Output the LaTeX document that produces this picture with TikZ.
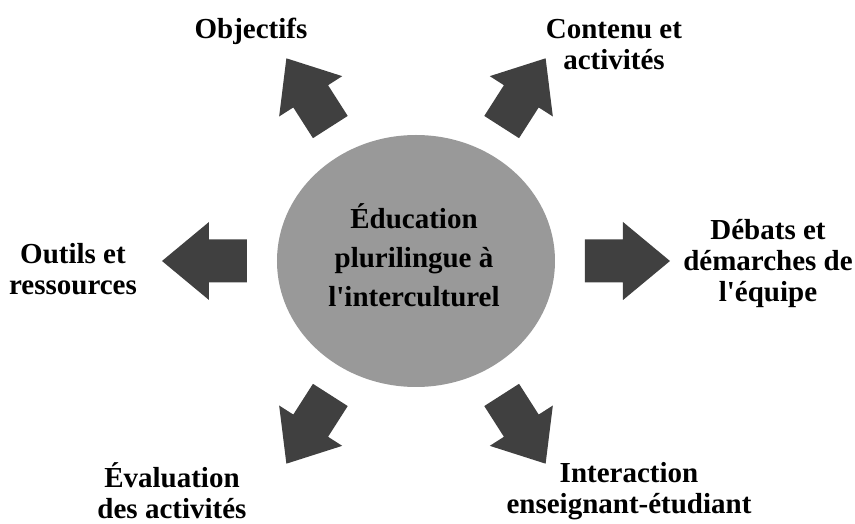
\documentclass[tikz,border=0pt]{standalone}
\usepackage{fontspec}
\setmainfont{Liberation Serif}
\definecolor{arrowgray}{HTML}{404040}
\definecolor{discgray}{HTML}{999999}
\tikzset{
  branch/.style={align=center, font=\bfseries\fontsize{29}{31}\selectfont},
  bigarrow/.pic={\fill[arrowgray] (0,-21.5) -- (38,-21.5) -- (38,-39) -- (85,0) -- (38,39) -- (38,21.5) -- (0,21.5) -- cycle;}
}

\begin{document}
\begin{tikzpicture}[x=1pt,y=1pt]
\useasboundingbox (-416,-263) rectangle (439,261);
\fill[discgray] (0,0) ellipse [x radius=139pt, y radius=126pt];
\node[align=center, font=\bfseries\fontsize{29}{39}\selectfont] (centre) at (-2,6) {Éducation\\plurilingue à\\l\textquotesingle interculturel};
\pic[rotate=0] at (169,0) {bigarrow};
\pic[rotate=180] at (-169,0) {bigarrow};
\pic[rotate=57.4, scale=0.96] at (57.4:159) {bigarrow};
\pic[rotate=122.6, scale=0.96] at (122.6:159) {bigarrow};
\pic[rotate=-57.4, scale=0.96] at (-57.4:159) {bigarrow};
\pic[rotate=-122.6, scale=0.96] at (-122.6:159) {bigarrow};
\node[branch] (objectifs) at (-165,230) {Objectifs};
\node[branch] (contenu) at (198,216) {Contenu et\\activités};
\node[branch] (outils) at (-343,-8) {Outils et\\ressources};
\node[branch] (debats) at (352,-3) {Débats et\\démarches de\\l\textquotesingle équipe};
\node[branch] (evaluation) at (-244,-230) {Évaluation\\des activités};
\node[branch] (interaction) at (213,-230) {Interaction\\enseignant-étudiant};
\end{tikzpicture}
\end{document}
